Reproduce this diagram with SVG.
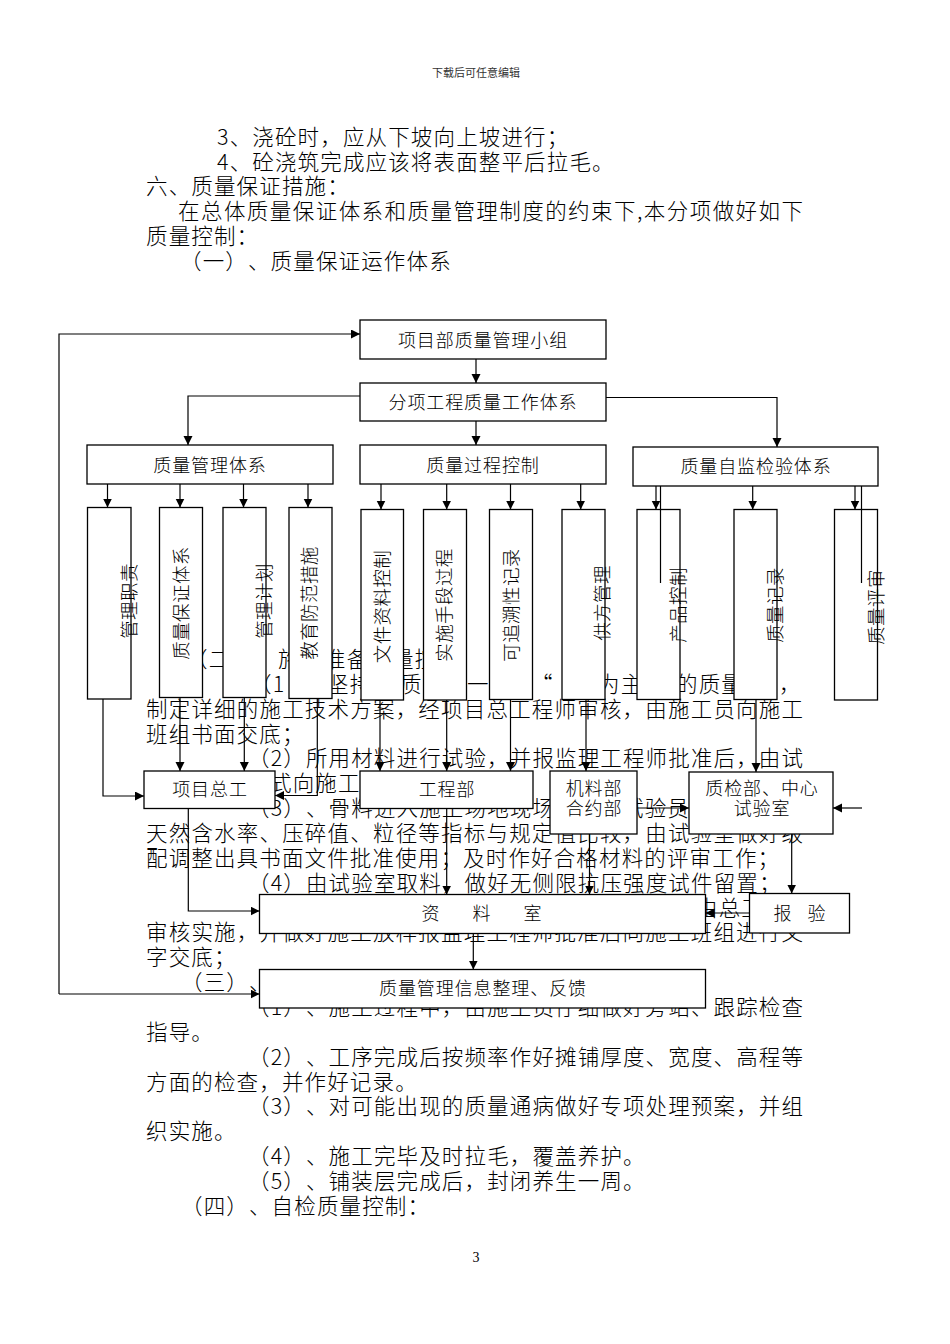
<svg xmlns="http://www.w3.org/2000/svg" width="950" height="1344" viewBox="0 0 950 1344">
<style>
text{text-spacing-trim:space-all}
.t{font-family:"Noto Sans CJK SC","Noto Sans CJK JP",sans-serif;font-size:21.5px;font-weight:300;letter-spacing:1.15px;fill:#000}
.j{font-family:"Noto Sans CJK SC","Noto Sans CJK JP",sans-serif;font-size:21.5px;font-weight:300;fill:#000}
.b{fill:#fff;stroke:#000;stroke-width:1.3}
.l{font-family:"Noto Sans CJK SC","Noto Sans CJK JP",sans-serif;font-size:18px;font-weight:300;letter-spacing:0.9px;fill:#000;text-anchor:middle;dominant-baseline:central}
.v{font-family:"Noto Sans CJK SC","Noto Sans CJK JP",sans-serif;font-size:18.5px;font-weight:300;letter-spacing:0.4px;fill:#000;text-anchor:middle;dominant-baseline:central}
.c{fill:none;stroke:#000;stroke-width:1.2}
</style>
<defs>
<marker id="ah" markerUnits="userSpaceOnUse" markerWidth="10" markerHeight="10" refX="9" refY="4.5" orient="auto">
<path d="M0,0 L9,4.5 L0,9 z" fill="#000"/>
</marker>
</defs>
<rect width="950" height="1344" fill="#fff"/>

<g id="page-text">
<text x="476" y="77" text-anchor="middle" style="font-family:'Noto Sans CJK SC',sans-serif;font-size:11px;fill:#333">下载后可任意编辑</text>
<text class="t" x="217" y="145">3、浇砼时，应从下坡向上坡进行；</text>
<text class="t" x="217" y="169.5">4、砼浇筑完成应该将表面整平后拉毛。</text>
<text class="t" x="146" y="194">六、质量保证措施：</text>
<text class="j" x="178" y="219" textLength="625" lengthAdjust="spacing">在总体质量保证体系和质量管理制度的约束下,本分项做好如下</text>
<text class="t" x="146" y="243.5">质量控制：</text>
<text class="t" x="180" y="269">（一）、质量保证运作体系</text>

<text class="t" x="186" y="667">（二</text>
<text class="t" x="278" y="667">施</text>
<text class="t" x="324" y="667">准备</text>
<text class="t" x="392" y="667">量控</text>

<text class="t" x="250" y="692">（1</text>
<text class="t" x="327" y="692">坚持</text>
<text class="t" x="400" y="692">质</text>
<text class="t" x="467" y="692">一</text>
<text class="t" x="531" y="692">“</text>
<text class="t" x="598" y="692">为主</text>
<text class="t" x="676" y="692">的质量</text>
<text class="t" x="779" y="692">，</text>

<text class="j" x="146" y="716.7" textLength="657" lengthAdjust="spacing">制定详细的施工技术方案，经项目总工程师审核，由施工员向施工</text>
<text class="t" x="146" y="741.6">班组书面交底；</text>
<text class="j" x="248" y="766.4" textLength="555" lengthAdjust="spacing">（2）所用材料进行试验，并报监理工程师批准后，由试</text>
<text class="t" x="270" y="791.3">式向施工</text>
<text class="t" x="248" y="816.1">（3）、骨料进入施工场地现场</text>
<text class="t" x="622" y="816.1">试验员</text>
<text class="j" x="146" y="841" textLength="657" lengthAdjust="spacing">天然含水率、压碎值、粒径等指标与规定值比较，由试验室做好级</text>
<text class="t" x="146" y="865.8">配调整出具书面文件批准使用；及时作好合格材料的评审工作；</text>
<text class="t" x="248" y="890.7">（4）由试验室取料，做好无侧限抗压强度试件留置；</text>
<text class="t" x="696" y="915.5">由总工</text>
<text class="j" x="146" y="940.4" textLength="657" lengthAdjust="spacing">审核实施，并做好施工放样报监理工程师批准后向施工班组进行文</text>
<text class="t" x="146" y="965.2">字交底；</text>
<text class="t" x="181" y="990">（三）、</text>
<text class="j" x="248" y="1014.9" textLength="555" lengthAdjust="spacing">（1）、施工过程中，由施工员仔细做好旁站、跟踪检查</text>
<text class="t" x="146" y="1039.8">指导。</text>
<text class="j" x="248" y="1064.6" textLength="555" lengthAdjust="spacing">（2）、工序完成后按频率作好摊铺厚度、宽度、高程等</text>
<text class="t" x="146" y="1089.5">方面的检查，并作好记录。</text>
<text class="j" x="248" y="1114.3" textLength="555" lengthAdjust="spacing">（3）、对可能出现的质量通病做好专项处理预案，并组</text>
<text class="t" x="146" y="1139">织实施。</text>
<text class="t" x="248" y="1164">（4）、施工完毕及时拉毛，覆盖养护。</text>
<text class="t" x="248" y="1188.9">（5）、铺装层完成后，封闭养生一周。</text>
<text class="t" x="181" y="1213.7">（四）、自检质量控制：</text>
<text x="476" y="1262" text-anchor="middle" style="font-family:'Liberation Serif',serif;font-size:14px;fill:#000">3</text>
</g>

<g id="n-top"><rect class="b" x="360" y="320" width="246" height="39"/><text class="l" x="483" y="339">项目部质量管理小组</text></g>
<g id="n-work"><rect class="b" x="360" y="383" width="246" height="38"/><text class="l" x="483" y="401">分项工程质量工作体系</text></g>
<g id="n-mgmt"><rect class="b" x="87" y="445" width="246" height="39"/><text class="l" x="210" y="463.5">质量管理体系</text></g>
<g id="n-proc"><rect class="b" x="360" y="445" width="246" height="39"/><text class="l" x="483" y="463.5">质量过程控制</text></g>
<g id="n-self"><rect class="b" x="633" y="447" width="245" height="39"/><text class="l" x="756" y="465">质量自监检验体系</text></g>

<g id="v1"><rect class="b" x="87.5" y="507.5" width="43.5" height="191.5"/><text class="v" transform="translate(127.5 601) rotate(-90)">管理职责</text></g>
<g id="v2"><rect class="b" x="159.5" y="507.5" width="43" height="190"/><text class="v" transform="translate(179.5 603) rotate(-90)">质量保证体系</text></g>
<g id="v3"><rect class="b" x="223" y="507.5" width="43" height="190"/><text class="v" transform="translate(263 601) rotate(-90)">管理计划</text></g>
<g id="v4"><rect class="b" x="289" y="507.5" width="43" height="191"/><text class="v" transform="translate(308 603) rotate(-90)">教育防范措施</text></g>
<g id="v5"><rect class="b" x="361" y="509.5" width="42.5" height="190.5"/><text class="v" transform="translate(380.5 606.5) rotate(-90)">文件资料控制</text></g>
<g id="v6"><rect class="b" x="423.5" y="509.5" width="43" height="190.5"/><text class="v" transform="translate(443 605) rotate(-90)">实施手段过程</text></g>
<g id="v7"><rect class="b" x="489.5" y="509.5" width="43" height="190"/><text class="v" transform="translate(509.7 605) rotate(-90)">可追溯性记录</text></g>
<g id="v8"><rect class="b" x="562" y="509.5" width="43" height="190"/><text class="v" transform="translate(601 603) rotate(-90)">供方管理</text></g>
<g id="v9"><rect class="b" x="637" y="509.5" width="43" height="190"/><text class="v" transform="translate(677 605) rotate(-90)">产品控制</text></g>
<g id="v10"><rect class="b" x="734" y="509.5" width="43" height="190"/><text class="v" transform="translate(774 605) rotate(-90)">质量记录</text></g>
<g id="v11"><rect class="b" x="834.5" y="509.5" width="43" height="190.5"/><text class="v" transform="translate(874.5 607) rotate(-90)">质量评审</text></g>

<g id="n-chief"><rect class="b" x="144" y="771" width="131" height="37.5"/><text class="l" x="210" y="787.5">项目总工</text></g>
<g id="n-eng"><rect class="b" x="360" y="771" width="173" height="37.5"/><text class="l" x="447" y="787.5">工程部</text></g>
<g id="n-mat"><rect class="b" x="550" y="771" width="87" height="63"/><text class="l" x="594" y="787">机料部</text><text class="l" x="594" y="807">合约部</text></g>
<g id="n-qc"><rect class="b" x="689" y="772" width="144" height="62"/><text class="l" x="762" y="787">质检部、中心</text><text class="l" x="762" y="807">试验室</text></g>
<g id="n-data"><rect class="b" x="259.5" y="894.5" width="446" height="39"/><text class="l" x="431 482 533" y="912">资料室</text></g>
<g id="n-report"><rect class="b" x="749.5" y="893.5" width="100" height="39.5"/><text class="l" x="783 817" y="912">报验</text></g>
<g id="n-info"><rect class="b" x="259.5" y="969.5" width="446" height="38.5"/><text class="l" x="483" y="987">质量管理信息整理、反馈</text></g>

<g id="connectors" class="c">
<path class="c" d="M59,994 V334 H360" marker-end="url(#ah)"/>
<path class="c" d="M59,994 H259.5" marker-end="url(#ah)"/>
<path class="c" d="M476,359 V383" marker-end="url(#ah)"/>
<path class="c" d="M360,396 H188 V445" marker-end="url(#ah)"/>
<path class="c" d="M476,421 V445" marker-end="url(#ah)"/>
<path class="c" d="M606,397.5 H777 V447" marker-end="url(#ah)"/>
<path class="c" d="M107.5,484 V507.5" marker-end="url(#ah)"/>
<path class="c" d="M180,484 V507.5" marker-end="url(#ah)"/>
<path class="c" d="M243.5,484 V507.5" marker-end="url(#ah)"/>
<path class="c" d="M308,484 V507.5" marker-end="url(#ah)"/>
<path class="c" d="M381,484 V509.5" marker-end="url(#ah)"/>
<path class="c" d="M446.7,484 V509.5" marker-end="url(#ah)"/>
<path class="c" d="M510.5,484 V509.5" marker-end="url(#ah)"/>
<path class="c" d="M580.7,484 V509.5" marker-end="url(#ah)"/>
<path class="c" d="M656,486 V509.5" marker-end="url(#ah)"/>
<path class="c" d="M752.7,486 V509.5" marker-end="url(#ah)"/>
<path class="c" d="M855,486 V509.5" marker-end="url(#ah)"/>
<path class="c" d="M660.5,486 V583"/>
<path class="c" d="M861.5,486 V583"/>
<path class="c" d="M103,699 V796 H144" marker-end="url(#ah)"/>
<path class="c" d="M180,697.5 V771" marker-end="url(#ah)"/>
<path class="c" d="M244.3,697.5 V771" marker-end="url(#ah)"/>
<path class="c" d="M317.3,698.5 V795.5 H275" marker-end="url(#ah)"/>
<path class="c" d="M380,700 V771" marker-end="url(#ah)"/>
<path class="c" d="M446.7,700 V771" marker-end="url(#ah)"/>
<path class="c" d="M510.5,699.5 V771" marker-end="url(#ah)"/>
<path class="c" d="M586,699.5 V771" marker-end="url(#ah)"/>
<path class="c" d="M756,699.5 V772" marker-end="url(#ah)"/>
<path class="c" d="M862,808 H833" marker-end="url(#ah)"/>
<path class="c" d="M637,808 H689" marker-end="url(#ah)"/>
<path class="c" d="M188.3,808.5 V911 H259.5" marker-end="url(#ah)"/>
<path class="c" d="M446.7,808.5 V894.5" marker-end="url(#ah)"/>
<path class="c" d="M589.5,834 V894.5" marker-end="url(#ah)"/>
<path class="c" d="M791.7,834 V893.5" marker-end="url(#ah)"/>
<path class="c" d="M749.5,913 H705.5" marker-end="url(#ah)"/>
<path class="c" d="M473.3,933.5 V969.5" marker-end="url(#ah)"/>
</g>
</svg>
